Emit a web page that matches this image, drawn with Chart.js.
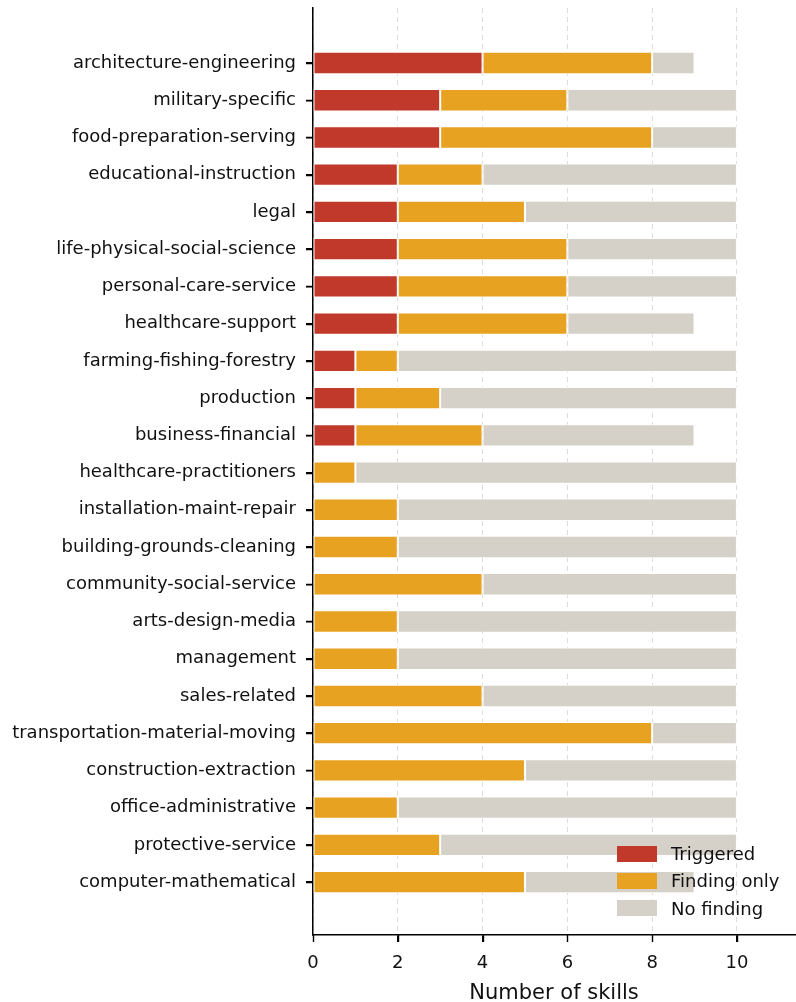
<!DOCTYPE html>
<html><head><meta charset="utf-8">
<script src="https://cdn.jsdelivr.net/npm/chart.js@4.4.0/dist/chart.umd.min.js"></script>
<style>
html,body{margin:0;padding:0;background:#fff;}
#wrap{position:relative;width:796px;height:1002px;}
#legend{position:absolute;left:617px;top:840px;font-family:'DejaVu Sans';font-size:18px;color:#111;}
#legend div{display:flex;align-items:center;height:27.3px;}
#legend span.sw{display:inline-block;width:40px;height:16px;margin-right:14px;}
</style></head>
<body><div id="wrap"><canvas id="c" width="796" height="1002"></canvas><div id="legend"></div></div>
<script>
const categories = ["architecture-engineering","military-specific","food-preparation-serving","educational-instruction","legal","life-physical-social-science","personal-care-service","healthcare-support","farming-fishing-forestry","production","business-financial","healthcare-practitioners","installation-maint-repair","building-grounds-cleaning","community-social-service","arts-design-media","management","sales-related","transportation-material-moving","construction-extraction","office-administrative","protective-service","computer-mathematical"];
const triggered   = [4,3,3,2,2,2,2,2,1,1,1,0,0,0,0,0,0,0,0,0,0,0,0];
const findingOnly = [4,3,5,2,3,4,4,4,1,2,3,1,2,2,4,2,2,4,8,5,2,3,5];
const noFinding   = [1,4,2,6,5,4,4,3,8,7,5,9,8,8,6,8,8,6,2,5,8,7,4];
const seriesNames = ["Triggered","Finding only","No finding"];
const seriesColors = ["#C0392B","#E8A222","#D5D0C8"];
const xTicks = [0,2,4,6,8,10];

const font = {family:"'DejaVu Sans'", size:18};
const seriesData = [triggered, findingOnly, noFinding];
const datasets = seriesData.map((arr,k)=>({
  label: seriesNames[k],
  data: arr.map((v,i)=>({x:v, y:i})),
  backgroundColor: seriesColors[k],
  borderColor: "#ffffff",
  borderWidth: 1,
  borderSkipped: false,
  barPercentage: 0.6,
  categoryPercentage: 1.0,
  stack: "s"
}));

document.getElementById('legend').innerHTML = seriesNames.map((n,k)=>
  `<div><span class="sw" style="background:${seriesColors[k]}"></span>${n}</div>`).join('');

// draws the outward tick marks of both axes at the scales' own tick positions
const tickMarks = {
  id: 'tickMarks',
  afterDraw(chart) {
    const ctx = chart.ctx, xs = chart.scales.x, ys = chart.scales.y;
    ctx.save();
    ctx.strokeStyle = '#000';
    ctx.lineWidth = 1.4;
    ctx.beginPath();
    ys.ticks.forEach(t => { const p = Math.round(ys.getPixelForValue(t.value)) + 0.5; ctx.moveTo(ys.right - 7, p); ctx.lineTo(ys.right, p); });
    xs.ticks.forEach(t => { const p = Math.round(xs.getPixelForValue(t.value)) + 0.5; ctx.moveTo(p, xs.top); ctx.lineTo(p, xs.top + 7); });
    ctx.stroke();
    ctx.restore();
  }
};

new Chart(document.getElementById('c'), {
  type: 'bar',
  data: { datasets },
  plugins: [tickMarks],
  options: {
    indexAxis: 'y',
    responsive: false,
    animation: false,
    layout: { padding: { top: 8, right: 1, left: 0, bottom: 0 } },
    plugins: { legend: { display: false }, tooltip: { enabled: false } },
    scales: {
      x: {
        type: 'linear', stacked: true, min: 0, max: 11.37,
        afterBuildTicks: s => { s.ticks = xTicks.map(v=>({value:v})); },
        afterFit: s => { s.height = 67; s.paddingLeft = 0; s.paddingRight = 0; },
        grid: { color: '#dddddd', lineWidth: 1, tickColor: '#000', tickLength: 7, drawTicks: true },
        border: { display: true, color: '#000', width: 1.5, dash: [5,4] },
        ticks: { font, color: '#111', padding: 11 },
        title: { display: true, text: 'Number of skills', font: {family:"'DejaVu Sans'", size:21}, color:'#111', padding: {top: 4, bottom: -4} }
      },
      y: {
        type: 'linear', stacked: true, reverse: true, min: -1.477, max: 23.42,
        offset: false,
        afterBuildTicks: s => { s.ticks = categories.map((c,i)=>({value:i})); },
        afterFit: s => { s.width = 313; s.paddingTop = 0; s.paddingBottom = 0; },
        grid: { offset: false, drawOnChartArea: false, drawTicks: true, tickLength: 7, tickColor: '#000', color: '#000', lineWidth: 1.4 },
        border: { display: true, color: '#000', width: 1.5 },
        ticks: { font, color: '#111', padding: 10, autoSkip: false, callback: v => categories[v] ?? '' }
      }
    }
  }
});
</script></body></html>
